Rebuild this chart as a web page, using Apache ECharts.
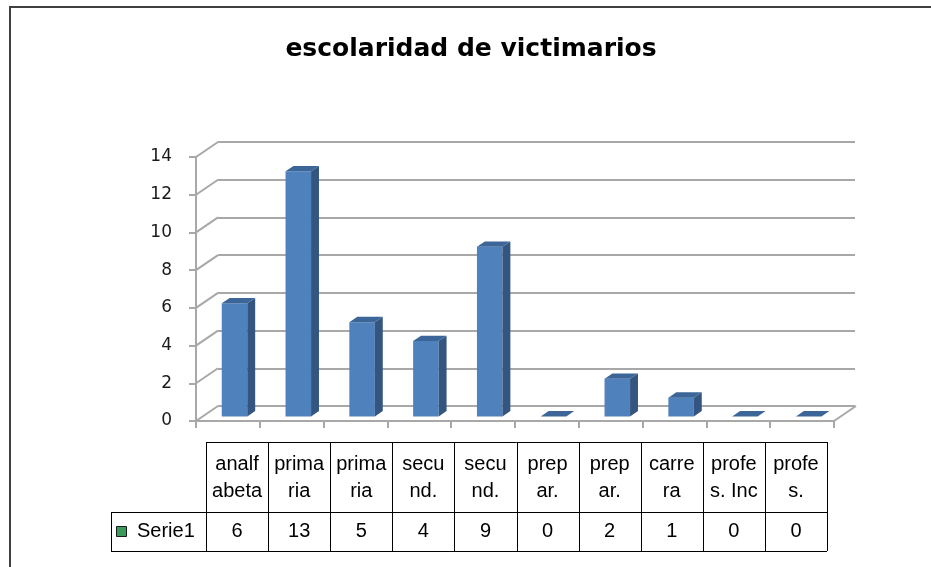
<!DOCTYPE html>
<html>
<head>
<meta charset="utf-8">
<script src="https://cdn.jsdelivr.net/npm/echarts@6/dist/echarts.min.js"></script>
<style>
  html, body { margin: 0; padding: 0; background: #fff; }
  #chart { width: 931px; height: 567px; }
</style>
</head>
<body>
<div id="chart"></div>
<script>
  // datos de la grafica
  var title = 'escolaridad de victimarios';
  var categories = ['analf\nabeta', 'prima\nria', 'prima\nria', 'secu\nnd.', 'secu\nnd.',
                    'prep\nar.', 'prep\nar.', 'carre\nra', 'profe\ns. Inc', 'profe\ns.'];
  var seriesName = 'Serie1';
  var values = [6, 13, 5, 4, 9, 0, 2, 1, 0, 0];
  var yTicks = [0, 2, 4, 6, 8, 10, 12, 14];

  // profundidad del 3D (pared trasera)
  var DX = 22, DY = -15;
  var FRONT = '#4f81bd', SIDE = '#33557f', TOP = '#3d6698';
  var GRID = '#a8a8a8';

  var chart = echarts.init(document.getElementById('chart'));

  function renderBar(params, api) {
    var base = api.coord([api.value(0), 0]);
    var top = api.coord([api.value(0), api.value(1)]);
    var bw = api.size([1, 0])[0];
    var half = bw * 0.2;
    var ox = DX * 0.3, oy = DY * 0.3;
    var sx = DX * 0.36, sy = DY * 0.36;
    var x0 = base[0] + ox - half, x1 = base[0] + ox + half;
    var yb = base[1] + oy, yt = top[1] + oy;
    return {
      type: 'group',
      children: [
        { type: 'polygon', shape: { points: [[x0, yb], [x1, yb], [x1, yt], [x0, yt]] }, style: { fill: FRONT } },
        { type: 'polygon', shape: { points: [[x1, yb], [x1 + sx, yb + sy], [x1 + sx, yt + sy], [x1, yt]] }, style: { fill: SIDE } },
        { type: 'polygon', shape: { points: [[x0, yt], [x1, yt], [x1 + sx, yt + sy], [x0 + sx, yt + sy]] }, style: { fill: TOP } }
      ]
    };
  }

  // diagonales de la pared y del piso
  function renderDiag(params, api) {
    var p = api.coord([0, api.value(1)]);
    var bw = api.size([1, 0])[0];
    var left = p[0] - bw / 2;
    var lines = [{
      type: 'line',
      shape: { x1: left, y1: p[1], x2: left + DX, y2: p[1] + DY },
      style: { stroke: GRID, lineWidth: 2 }
    }];
    if (api.value(1) === 0) {
      var q = api.coord([categories.length - 1, 0]);
      var right = q[0] + bw / 2;
      lines.push({
        type: 'line',
        shape: { x1: right, y1: q[1], x2: right + DX, y2: q[1] + DY },
        style: { stroke: GRID, lineWidth: 2 }
      });
    }
    return { type: 'group', children: lines };
  }

  // tabla de datos
  var tLeft = 206, colW = 62.1, headTop = 442, headH = 70, rowH = 39, keyLeft = 111;
  var tRight = tLeft + colW * categories.length;
  var rowTop = headTop + headH, rowBottom = rowTop + rowH;
  var tableFont = '20px "Liberation Sans", Arial, sans-serif';
  var table = [];
  function hline(x1, x2, y) {
    table.push({ type: 'line', shape: { x1: x1, y1: y, x2: x2, y2: y }, style: { stroke: '#000', lineWidth: 1 } });
  }
  function vline(x, y1, y2) {
    table.push({ type: 'line', shape: { x1: x, y1: y1, x2: x, y2: y2 }, style: { stroke: '#000', lineWidth: 1 } });
  }
  hline(tLeft, tRight, headTop + 0.5);
  hline(keyLeft, tRight, rowTop + 0.5);
  hline(keyLeft, tRight, rowBottom + 0.5);
  vline(keyLeft + 0.5, rowTop, rowBottom);
  for (var i = 0; i <= categories.length; i++) {
    var cx = Math.round(tLeft + colW * i) + 0.5;
    vline(cx, headTop, rowBottom);
  }
  categories.forEach(function (c, i) {
    var mid = tLeft + colW * (i + 0.5);
    table.push({ type: 'text', x: mid, y: headTop + headH / 2 + 1,
      style: { text: c, font: tableFont, fill: '#000', align: 'center', verticalAlign: 'middle', lineHeight: 27 } });
    table.push({ type: 'text', x: mid, y: rowTop + rowH / 2,
      style: { text: String(values[i]), font: tableFont, fill: '#000', align: 'center', verticalAlign: 'middle' } });
  });
  table.push({ type: 'rect', shape: { x: 116.5, y: 526.5, width: 10, height: 10 },
    style: { fill: '#3a9a5c', stroke: '#1a1a1a', lineWidth: 1 } });
  table.push({ type: 'text', x: 137, y: rowTop + rowH / 2,
    style: { text: seriesName, font: tableFont, fill: '#000', align: 'left', verticalAlign: 'middle' } });

  chart.setOption({
    animation: false,
    backgroundColor: '#fff',
    graphic: [
      { type: 'polyline', shape: { points: [[10, 567], [10, 7], [931, 7]] }, style: { stroke: '#404040', lineWidth: 2, fill: null } },
      { type: 'text', x: 471, y: 49,
        style: { text: title, font: 'bold 25px "DejaVu Sans", sans-serif', fill: '#000', align: 'center', verticalAlign: 'middle' } }
    ].concat(table),
    grid: [
      { left: 196, top: 157, width: 638, height: 264 },
      { left: 218, top: 142, width: 637, height: 264 }
    ],
    xAxis: [
      {
        gridIndex: 0, type: 'category', data: categories, boundaryGap: true,
        axisLine: { lineStyle: { color: GRID, width: 2 } },
        axisTick: { show: true, interval: 0, length: 7, lineStyle: { color: GRID, width: 2 } },
        axisLabel: { show: false }
      },
      { gridIndex: 1, type: 'category', data: categories, show: false }
    ],
    yAxis: [
      {
        gridIndex: 0, type: 'value', min: 0, max: 14, interval: 2,
        axisLine: { show: true, lineStyle: { color: GRID, width: 2 } },
        axisTick: { show: true, length: 7, lineStyle: { color: GRID, width: 2 } },
        splitLine: { show: false },
        axisLabel: { margin: 24, color: '#1a1a1a', fontSize: 17, fontFamily: 'DejaVu Sans' }
      },
      {
        gridIndex: 1, type: 'value', min: 0, max: 14, interval: 2,
        axisLine: { show: false }, axisTick: { show: false }, axisLabel: { show: false },
        splitLine: { show: true, lineStyle: { color: GRID, width: 2 } }
      }
    ],
    series: [
      {
        type: 'custom', xAxisIndex: 0, yAxisIndex: 0, renderItem: renderDiag,
        data: yTicks.map(function (v) { return [0, v]; }), z: 1, silent: true
      },
      {
        name: seriesName, type: 'custom', xAxisIndex: 0, yAxisIndex: 0, renderItem: renderBar,
        data: values.map(function (v, i) { return [i, v]; }), z: 3
      }
    ]
  });
</script>
</body>
</html>
